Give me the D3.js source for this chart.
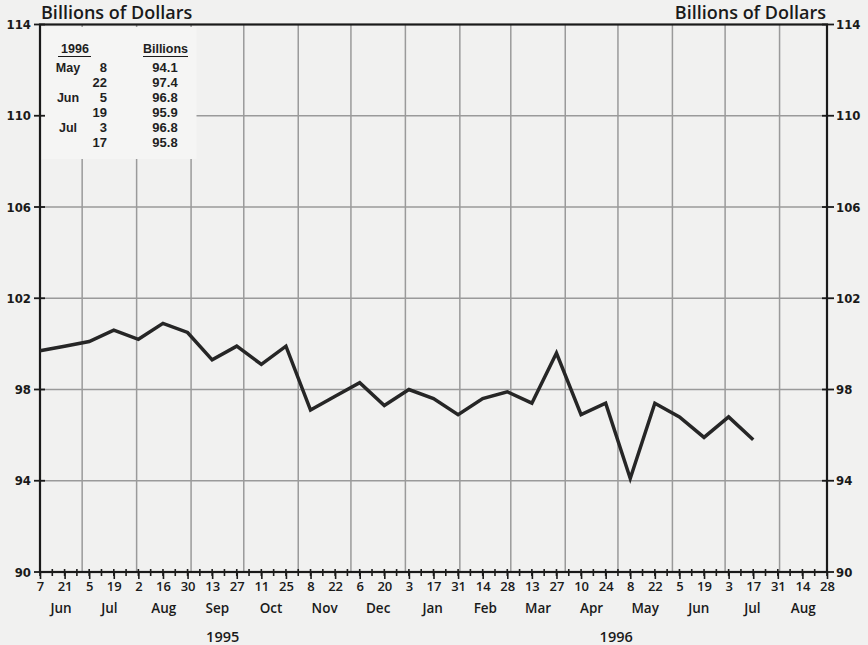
<!DOCTYPE html>
<html>
<head>
<meta charset="utf-8">
<script src="https://cdn.jsdelivr.net/npm/d3@7"></script>
<style>
  html, body { margin: 0; padding: 0; background: #f1f1f0; }
  svg { display: block; }
  .lbl { font-family: "Open Sans", Lato, "DejaVu Sans", sans-serif; font-weight: 600; fill: #1a1a1a; }
  .num { font-family: "DejaVu Sans Condensed", "Liberation Sans Narrow", "DejaVu Sans", sans-serif; font-weight: 700; fill: #1a1a1a; }
  .tbl { font-family: "Liberation Sans", Arial, sans-serif; font-weight: 700; fill: #1f1f1f; }
</style>
</head>
<body>
<svg id="chart" width="868" height="645"></svg>
<script>
// ---------- data ----------
const dates = ["1995-06-07","1995-06-21","1995-07-05","1995-07-19","1995-08-02","1995-08-16","1995-08-30",
  "1995-09-13","1995-09-27","1995-10-11","1995-10-25","1995-11-08","1995-11-22","1995-12-06","1995-12-20",
  "1996-01-03","1996-01-17","1996-01-31","1996-02-14","1996-02-28","1996-03-13","1996-03-27","1996-04-10",
  "1996-04-24","1996-05-08","1996-05-22","1996-06-05","1996-06-19","1996-07-03","1996-07-17"];
const values = [99.7, 99.9, 100.1, 100.6, 100.2, 100.9, 100.5, 99.3, 99.9, 99.1, 99.9, 97.1, 97.7, 98.3, 97.3,
  98.0, 97.6, 96.9, 97.6, 97.9, 97.4, 99.6, 96.9, 97.4, 94.1, 97.4, 96.8, 95.9, 96.8, 95.8];
const xTickDates = ["1995-06-07","1995-06-21","1995-07-05","1995-07-19","1995-08-02","1995-08-16","1995-08-30",
  "1995-09-13","1995-09-27","1995-10-11","1995-10-25","1995-11-08","1995-11-22","1995-12-06","1995-12-20",
  "1996-01-03","1996-01-17","1996-01-31","1996-02-14","1996-02-28","1996-03-13","1996-03-27","1996-04-10",
  "1996-04-24","1996-05-08","1996-05-22","1996-06-05","1996-06-19","1996-07-03","1996-07-17","1996-07-31",
  "1996-08-14","1996-08-28"];
const monthNames = ["Jan","Feb","Mar","Apr","May","Jun","Jul","Aug","Sep","Oct","Nov","Dec"];
const yTicks = [90, 94, 98, 102, 106, 110, 114];
const years = ["1995", "1996"];
const tableMonths = ["May", "", "Jun", "", "Jul", ""];
const tableDays = ["8", "22", "5", "19", "3", "17"];
const tableValues = values.slice(-6).map(v => v.toFixed(1));

// ---------- layout ----------
const parse = d3.timeParse("%Y-%m-%d");
const data = dates.map((d, i) => ({ date: parse(d), value: values[i] }));
const tickD = xTickDates.map(parse);
const x0 = tickD[0], x1 = tickD[tickD.length - 1];
const L = 40, R = 827, T = 24.5, B = 572;

const x = d3.scaleTime().domain([x0, x1]).range([L, R]);
const y = d3.scaleLinear().domain([90, 114]).range([B, T]);

const svg = d3.select("#chart");

// gridlines
const monthStarts = d3.timeMonth.range(d3.timeMonth.ceil(x0), x1);
svg.append("g").selectAll("line").data(monthStarts).join("line")
  .attr("x1", d => x(d)).attr("x2", d => x(d)).attr("y1", T).attr("y2", B)
  .attr("stroke", "#9a9a9a").attr("stroke-width", 1.5);
svg.append("g").selectAll("line").data(yTicks.filter(v => v > 90 && v < 114)).join("line")
  .attr("x1", L).attr("x2", R).attr("y1", d => y(d)).attr("y2", d => y(d))
  .attr("stroke", "#9a9a9a").attr("stroke-width", 1.5);

// inset box covering grid
svg.append("rect").attr("x", L + 1.5).attr("y", T + 2.5).attr("width", 155).attr("height", 132)
  .attr("fill", "#f5f5f4");

// frame
svg.append("rect").attr("x", L).attr("y", T).attr("width", R - L).attr("height", B - T)
  .attr("fill", "none").attr("stroke", "#1a1a1a").attr("stroke-width", 2.2);

// y ticks + labels (both sides)
const yg = svg.append("g");
yTicks.forEach(v => {
  yg.append("line").attr("x1", L - 6).attr("x2", L + 5).attr("y1", y(v)).attr("y2", y(v))
    .attr("stroke", "#1a1a1a").attr("stroke-width", 1.8);
  yg.append("line").attr("x1", R - 5).attr("x2", R + 7).attr("y1", y(v)).attr("y2", y(v))
    .attr("stroke", "#1a1a1a").attr("stroke-width", 1.8);
  yg.append("text").attr("class", "num").attr("x", 31).attr("y", y(v)).attr("dy", "0.36em")
    .attr("text-anchor", "end").attr("font-size", 13).text(v);
  yg.append("text").attr("class", "num").attr("x", 836).attr("y", y(v)).attr("dy", "0.36em")
    .attr("text-anchor", "start").attr("font-size", 13).text(v);
});

// x axis minor (weekly) + major (biweekly) ticks
const weekly = d3.timeWednesday.range(x0, d3.timeDay.offset(x1, 1));
svg.append("g").selectAll("line").data(weekly).join("line")
  .attr("x1", d => x(d)).attr("x2", d => x(d)).attr("y1", B - 3).attr("y2", B + 4)
  .attr("stroke", "#1a1a1a").attr("stroke-width", 1.6);
const xAxis = d3.axisBottom(x).tickValues(tickD).tickSize(7).tickPadding(3)
  .tickFormat(d3.timeFormat("%-d"));
const xg = svg.append("g").attr("transform", `translate(0,${B})`).call(xAxis);
xg.select(".domain").remove();
xg.selectAll(".tick line").attr("stroke", "#1a1a1a").attr("stroke-width", 1.6);
xg.selectAll(".tick text").attr("class", "lbl").attr("font-size", 13).attr("fill", "#1a1a1a");

// month labels
const months = d3.timeMonth.range(d3.timeMonth.floor(x0), x1);
svg.append("g").selectAll("text").data(months).join("text")
  .attr("class", "lbl").attr("font-size", 13.5).attr("text-anchor", "middle")
  .attr("x", d => {
    const s = d < x0 ? x0 : d;
    const e0 = d3.timeMonth.offset(d, 1);
    const e = e0 > x1 ? x1 : e0;
    return (x(s) + x(e)) / 2;
  })
  .attr("y", 613)
  .text(d => monthNames[d.getMonth()]);

// year labels
svg.append("g").selectAll("text").data(years).join("text")
  .attr("class", "lbl").attr("font-size", 14.5).attr("text-anchor", "middle")
  .attr("x", yr => {
    const s = d3.max([x0, new Date(+yr, 0, 1)]);
    const e = d3.min([x1, new Date(+yr + 1, 0, 1)]);
    return (x(s) + x(e)) / 2;
  })
  .attr("y", 642).text(d => d);

// header labels
svg.append("text").attr("class", "lbl").attr("font-size", 18).attr("x", 41).attr("y", 19)
  .text("Billions of Dollars");
svg.append("text").attr("class", "lbl").attr("font-size", 18).attr("x", 826).attr("y", 19)
  .attr("text-anchor", "end").text("Billions of Dollars");

// data line
const line = d3.line().x(d => x(d.date)).y(d => y(d.value));
svg.append("path").datum(data).attr("d", line).attr("fill", "none")
  .attr("stroke", "#262626").attr("stroke-width", 3.5).attr("stroke-linejoin", "miter");

// inset table
const tg = svg.append("g");
tg.append("text").attr("class", "tbl").attr("font-size", 12.5).attr("x", 75).attr("y", 53)
  .attr("text-anchor", "middle").text("1996");
tg.append("line").attr("x1", 58).attr("x2", 91).attr("y1", 56.5).attr("y2", 56.5)
  .attr("stroke", "#1a1a1a").attr("stroke-width", 1.2);
tg.append("text").attr("class", "tbl").attr("font-size", 12.5).attr("x", 165.5).attr("y", 53)
  .attr("text-anchor", "middle").text("Billions");
tg.append("line").attr("x1", 143).attr("x2", 188).attr("y1", 56.5).attr("y2", 56.5)
  .attr("stroke", "#1a1a1a").attr("stroke-width", 1.2);
tableDays.forEach((d, i) => {
  const yy = 72 + i * 15;
  tg.append("text").attr("class", "tbl").attr("font-size", 12.5).attr("x", 68).attr("y", yy)
    .attr("text-anchor", "middle").text(tableMonths[i]);
  tg.append("text").attr("class", "tbl").attr("font-size", 13).attr("x", 107).attr("y", yy)
    .attr("text-anchor", "end").text(d);
  tg.append("text").attr("class", "tbl").attr("font-size", 13).attr("x", 165).attr("y", yy)
    .attr("text-anchor", "middle").text(tableValues[i]);
});
</script>
</body>
</html>
